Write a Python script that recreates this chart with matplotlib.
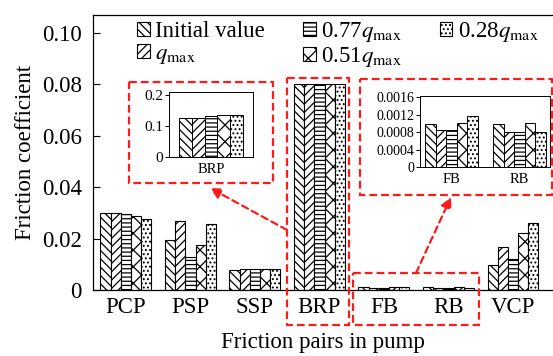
import matplotlib
matplotlib.use("Agg")
import matplotlib.pyplot as plt
import matplotlib.transforms as mtransforms
from matplotlib.patches import Rectangle, FancyArrowPatch
import numpy as np

plt.rcParams['font.family'] = ['Liberation Serif', 'DejaVu Serif']
plt.rcParams['mathtext.fontset'] = 'stix'
plt.rcParams['hatch.linewidth'] = 0.9

# Friction pairs and friction coefficients for each operating condition
pairs = ['PCP', 'PSP', 'SSP', 'BRP', 'FB', 'RB', 'VCP']
series = ['Initial value', r'$q_{\rm max}$', r'0.77$q_{\rm max}$',
          r'0.51$q_{\rm max}$', r'0.28$q_{\rm max}$']
initial = [0.0300, 0.0196, 0.0078, 0.125, 0.00099, 0.00098, 0.0098]
qmax    = [0.0300, 0.0268, 0.0082, 0.125, 0.00085, 0.00081, 0.0167]
q077    = [0.0295, 0.0128, 0.0082, 0.133, 0.00085, 0.00081, 0.0120]
q051    = [0.0288, 0.0176, 0.0082, 0.136, 0.00102, 0.00101, 0.0222]
q028    = [0.0278, 0.0258, 0.0082, 0.136, 0.00118, 0.00081, 0.0259]
values = [initial, qmax, q077, q051, q028]

# bars taller than this are shown truncated in the main panel (see BRP inset)
main_cap = 0.08

yticks = [0, 0.02, 0.04, 0.06, 0.08, 0.10]
ytick_labels = ['0', '0.02', '0.04', '0.06', '0.08', '0.10']
brp_ticks = [0, 0.1, 0.2]
brp_tick_labels = ['0', '0.1', '0.2']
bear_ticks = [0, 0.0004, 0.0008, 0.0012, 0.0016]
bear_tick_labels = ['0', '0.0004', '0.0008', '0.0012', '0.0016']

hatches = ['\\\\\\\\', '////', '----', 'xx', '....']

W, H = 553, 356
fig = plt.figure(figsize=(W / 100, H / 100), dpi=100)
# pixel coordinates measured from the top-left corner of the figure
pix = mtransforms.Affine2D().scale(1 / W, -1 / H).translate(0, 1) + fig.transFigure


def axes_px(x0, y0, x1, y1):
    return fig.add_axes([x0 / W, 1 - y1 / H, (x1 - x0) / W, (y1 - y0) / H])


FS = 16.5
ax = axes_px(93, 15, 553, 290)
x = np.arange(len(pairs))
bw = 0.158
handles = []
for i, (vals, h) in enumerate(zip(values, hatches)):
    b = ax.bar(x + (i - 2) * bw, np.minimum(vals, main_cap), bw,
               color='white', edgecolor='black',
               linewidth=0.8, hatch=h, label=series[i])
    handles.append(b)
ax.set_xlim(-0.51, 6.62)
ax.set_ylim(0, 0.107)
ax.set_xticks(x)
ax.set_xticklabels(pairs, fontsize=FS)
ax.set_yticks(yticks)
ax.set_yticklabels(ytick_labels, fontsize=FS)
ax.tick_params(axis='y', direction='in', length=5, width=0.8, pad=8)
ax.tick_params(axis='x', length=0, pad=5)
ax.spines['right'].set_visible(False)
for s in ['left', 'bottom', 'top']:
    ax.spines[s].set_linewidth(0.9)
ax.set_ylabel('Friction coefficient', fontsize=FS, labelpad=4)
ax.set_xlabel('Friction pairs in pump', fontsize=FS, labelpad=10)

leg = ax.legend(handles=handles, labels=series, ncol=3, frameon=False,
                fontsize=FS, loc='upper left', bbox_to_anchor=(0.066, 1.032),
                handlelength=0.55, handleheight=0.55, handletextpad=0.25,
                columnspacing=1.65, labelspacing=0.05, borderpad=0.1)

# inset: BRP
axb = axes_px(169, 92, 253, 157)
xb = np.arange(5) - 2
for i, (vals, h) in enumerate(zip(values, hatches)):
    axb.bar(xb[i], vals[3], 1.0, color='white', edgecolor='black',
            linewidth=0.7, hatch=h)
axb.set_xlim(-3.33, 3.33)
axb.set_ylim(0, 0.21)
axb.set_yticks(brp_ticks)
axb.set_yticklabels(brp_tick_labels, fontsize=11)
axb.set_xticks([0])
axb.set_xticklabels(['BRP'], fontsize=10.5)
axb.tick_params(axis='y', direction='out', length=3, width=0.7, pad=1)
axb.tick_params(axis='x', length=0, pad=4)
for s in axb.spines.values():
    s.set_linewidth(0.7)

# inset: FB and RB
axr = axes_px(420, 96, 550, 167)
xr = np.arange(2)
bw2 = 0.156
for i, (vals, h) in enumerate(zip(values, hatches)):
    axr.bar(xr + (i - 2) * bw2, vals[4:6], bw2, color='white',
            edgecolor='black', linewidth=0.7, hatch=h)
axr.set_xlim(-0.463, 1.45)
axr.set_ylim(0, 0.00163)
axr.set_yticks(bear_ticks)
axr.set_yticklabels(bear_tick_labels, fontsize=10)
axr.set_xticks(xr)
axr.set_xticklabels(pairs[4:6], fontsize=10.5)
axr.tick_params(axis='y', direction='out', length=3, width=0.7, pad=1)
axr.tick_params(axis='x', length=0, pad=4)
for s in axr.spines.values():
    s.set_linewidth(0.7)

# red dashed frames and arrows
red = '#ff1a1a'
dash = (0, (3.5, 1.8))
for (x0, y0, x1, y1) in [(287, 78, 349, 325), (353, 273, 479, 325),
                         (129, 82, 273, 183), (360, 79, 552, 195)]:
    fig.patches.append(Rectangle((x0, y0), x1 - x0, y1 - y0, transform=pix,
                                 fill=False, edgecolor=red, linewidth=1.6,
                                 linestyle=dash))

for (a, b) in [((287, 230), (210, 188)), ((416, 273), (451, 197))]:
    fig.patches.append(FancyArrowPatch(a, b, transform=pix,
                                       arrowstyle='-|>', mutation_scale=16,
                                       color=red, linewidth=1.6,
                                       linestyle=(0, (3, 2)),
                                       shrinkA=0, shrinkB=0))

fig.savefig('out.png', dpi=100)
